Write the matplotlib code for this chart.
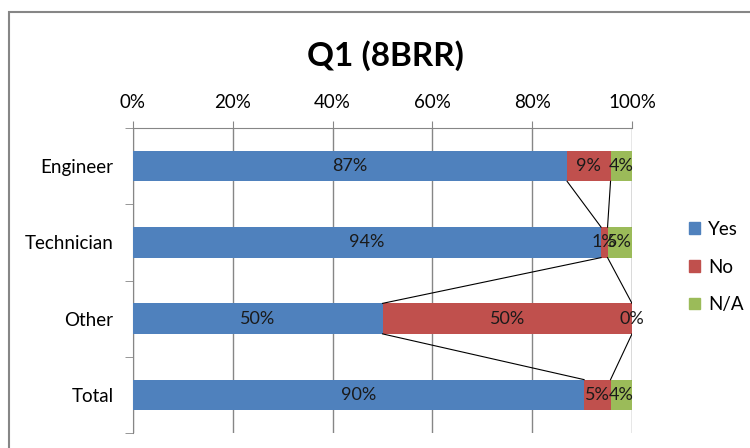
import matplotlib.pyplot as plt
from matplotlib.patches import Patch, Rectangle
import numpy as np

plt.rcParams['font.family'] = ['Lato', 'DejaVu Sans']

categories = ["Engineer", "Technician", "Other", "Total"]
yes_vals = [87.0, 93.8, 50.0, 90.4]
no_vals = [8.7, 1.3, 50.0, 5.3]
na_vals = [4.3, 4.9, 0.0, 4.3]
series_names = ["Yes", "No", "N/A"]
colors = ["#4F81BD", "#C0504D", "#9BBB59"]
x_ticks = [0, 20, 40, 60, 80, 100]

fig = plt.figure(figsize=(7.5, 4.48), dpi=100)
ax = fig.add_axes([133 / 750, 1 - 433 / 448, 499 / 750, 305 / 448])

y = np.arange(len(categories))
bar_h = 0.4
left = np.zeros(len(categories))
ends = []
for vals, name, col in zip([yes_vals, no_vals, na_vals], series_names, colors):
    vals = np.array(vals)
    ax.barh(y, vals, left=left, height=bar_h, color=col, label=name, zorder=3)
    for yi, l, v in zip(y, left, vals):
        ax.text(l + v / 2, yi, f"{round(v):.0f}%", ha="center", va="center",
                fontsize=13, color="#1a1a1a", zorder=5)
    left = left + vals
    ends.append(left.copy())

# series lines between adjacent bars
for c in ends:
    for i in range(len(categories) - 1):
        ax.plot([c[i], c[i + 1]], [y[i] + bar_h / 2, y[i + 1] - bar_h / 2],
                color="black", lw=0.8, zorder=4)

ax.set_xlim(0, 100)
ax.set_ylim(3.5, -0.5)
ax.xaxis.tick_top()
ax.set_xticks(x_ticks)
ax.set_xticklabels([f"{t}%" for t in x_ticks], fontsize=13.5)
ax.tick_params(axis="x", length=5, color="#868686", pad=7)
ax.set_yticks(y)
ax.set_yticklabels(categories, fontsize=13.5)
ax.tick_params(axis="y", which="major", length=0, pad=14)
ax.set_yticks(np.arange(-0.5, 4.0, 1.0), minor=True)
ax.tick_params(axis="y", which="minor", length=6, color="#868686")
ax.grid(axis="x", color="#868686", lw=1, zorder=0)
for s in ["right", "bottom"]:
    ax.spines[s].set_visible(False)
for s in ["top", "left"]:
    ax.spines[s].set_color("#868686")

fig.text(385 / 750, 1 - 56 / 448, "Q1 (8BRR)", ha="center", va="center",
         fontsize=24, fontweight="bold")

handles = [Patch(color=c) for c in colors]
fig.legend(handles, series_names, loc="center left",
           bbox_to_anchor=(676 / 750, 1 - 267 / 448), frameon=False,
           fontsize=13.5, handlelength=0.6, handleheight=0.6,
           handletextpad=0.4, labelspacing=1.1, borderpad=0.2)

fig.add_artist(Rectangle((9 / 750, -0.1), 1.2, 1 - 12 / 448 + 0.1,
                         transform=fig.transFigure, fill=False,
                         edgecolor="#868686", lw=1.5))

fig.savefig("out.png", dpi=100)
